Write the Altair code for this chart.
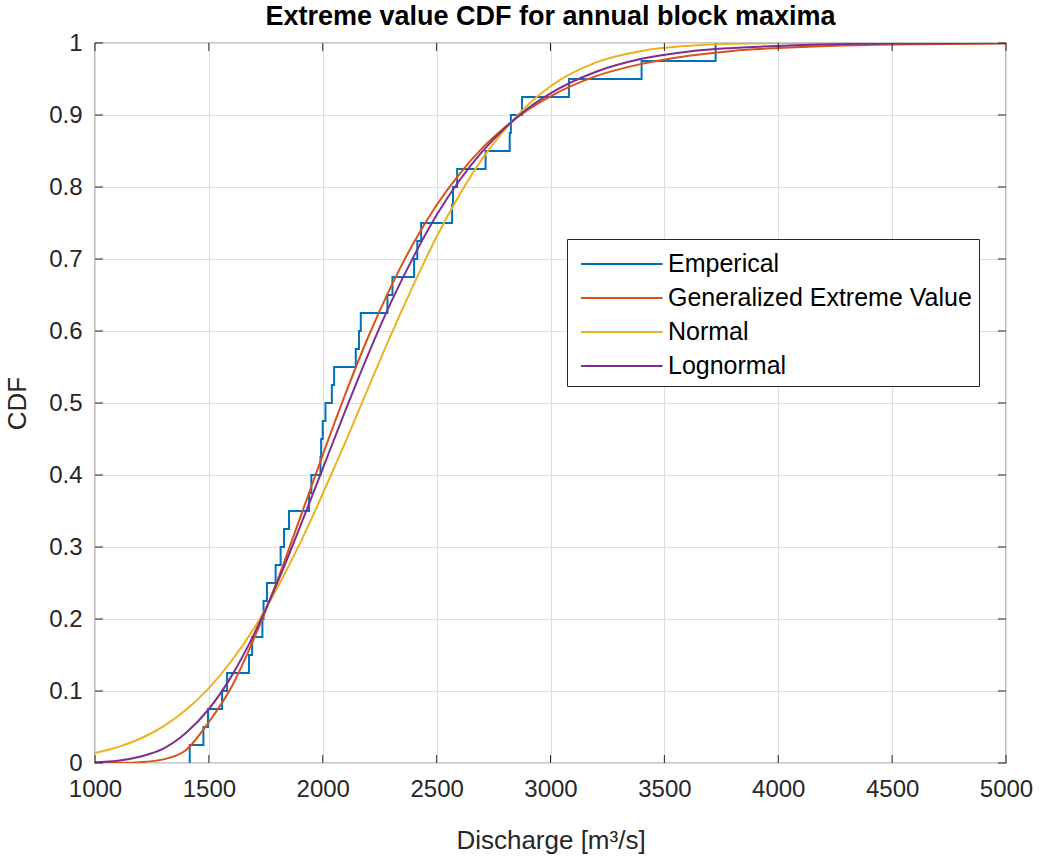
import altair as alt
import pandas as pd

# ---- data ----
# empirical sample (sorted annual maxima, m^3/s), 40 values
sample = [1416, 1476, 1496, 1558, 1580, 1676, 1690, 1735, 1740, 1755,
          1793, 1815, 1830, 1852, 1940, 1950, 1990, 1993, 2000, 2012,
          2040, 2050, 2145, 2159, 2167, 2284, 2306, 2401, 2415, 2432,
          2568, 2572, 2590, 2715, 2821, 2826, 2875, 3081, 3400, 3725]

curve_x = [1000, 1100, 1200, 1300, 1400, 1500, 1600, 1700, 1800, 1900,
           2000, 2100, 2200, 2300, 2400, 2500, 2600, 2700, 2800, 2900,
           3000, 3200, 3400, 3600, 3800, 4000, 4500, 5000]
gev_y = [0.0, 0.0002, 0.0012, 0.005, 0.018, 0.057, 0.106, 0.174, 0.253, 0.340,
         0.428, 0.513, 0.592, 0.662, 0.723, 0.775, 0.818, 0.854, 0.883, 0.907,
         0.926, 0.954, 0.971, 0.982, 0.989, 0.993, 0.998, 0.9994]
normal_y = [0.014, 0.022, 0.034, 0.051, 0.074, 0.104, 0.142, 0.188, 0.243, 0.305,
            0.374, 0.446, 0.521, 0.595, 0.665, 0.731, 0.789, 0.839, 0.880, 0.914,
            0.940, 0.973, 0.989, 0.996, 0.999, 0.9997, 1.0, 1.0]
lognormal_y = [0.001, 0.003, 0.009, 0.020, 0.042, 0.075, 0.121, 0.180, 0.250, 0.328,
               0.409, 0.490, 0.568, 0.640, 0.704, 0.761, 0.809, 0.849, 0.882, 0.909,
               0.930, 0.960, 0.978, 0.988, 0.993, 0.996, 0.9993, 0.9999]

series_names = ["Emperical", "Generalized Extreme Value", "Normal", "Lognormal"]
series_colors = ["#0072BD", "#D95319", "#EDB120", "#7E2F8E"]

x_ticks = [1000, 1500, 2000, 2500, 3000, 3500, 4000, 4500, 5000]
y_ticks = [0, 0.1, 0.2, 0.3, 0.4, 0.5, 0.6, 0.7, 0.8, 0.9, 1]

# ---- tables ----
n = len(sample)
ecdf = pd.DataFrame({
    "x": [sample[0]] + sample,
    "y": [0.0] + [(i + 1) / n for i in range(n)],   # cumulative count / n
    "series": "Emperical",
})
def curve(name, ys):
    return pd.DataFrame({"x": curve_x, "y": ys, "series": name})
gev = curve("Generalized Extreme Value", gev_y)
nrm = curve("Normal", normal_y)
lgn = curve("Lognormal", lognormal_y)

W, H = 911, 720
FONT = "Liberation Sans"
TXT = "#262626"

xs = alt.Scale(domain=[1000, 5000], nice=False)
ys = alt.Scale(domain=[0, 1], nice=False)
color = alt.Color("series:N",
                  scale=alt.Scale(domain=series_names, range=series_colors),
                  sort=series_names,
                  legend=alt.Legend(title=None, orient="none", legendX=472, legendY=196,
                                    fillColor="white", strokeColor=TXT, padding=7,
                                    symbolType="M-0.65,0H4.15", symbolSize=1156,
                                    symbolStrokeWidth=2,
                                    labelFont=FONT, labelFontSize=25, labelColor="#000000",
                                    labelOffset=58, rowPadding=3, labelLimit=0))

x_enc = alt.X("x:Q", scale=xs, axis=alt.Axis(values=x_ticks, format="d", title="Discharge [m³/s]",
                                               grid=True, ticks=False, domain=False, labelFlush=False,
                                               labelPadding=14, titlePadding=26))
y_enc = alt.Y("y:Q", scale=ys, axis=alt.Axis(values=y_ticks, format="~g", title="CDF",
                                               grid=True, ticks=False, domain=False, labelFlush=False,
                                               labelPadding=13, titlePadding=18))

base_ecdf = alt.Chart(ecdf).mark_line(interpolate="step-after", strokeWidth=2, clip=True).encode(
    x=x_enc, y=y_enc, color=color)
l_gev = alt.Chart(gev).mark_line(interpolate="monotone", strokeWidth=2, clip=True).encode(
    x="x:Q", y="y:Q", color=alt.Color("series:N"))
l_nrm = alt.Chart(nrm).mark_line(interpolate="monotone", strokeWidth=2, clip=True).encode(
    x="x:Q", y="y:Q", color=alt.Color("series:N"))
l_lgn = alt.Chart(lgn).mark_line(interpolate="monotone", strokeWidth=2, clip=True).encode(
    x="x:Q", y="y:Q", color=alt.Color("series:N"))

xt = pd.DataFrame({"t": x_ticks})
yt = pd.DataFrame({"t": y_ticks})
tick_len = 8
xt_bot = alt.Chart(xt).mark_rule(color=TXT, strokeWidth=1).encode(
    x="t:Q", y=alt.value(H), y2=alt.value(H - tick_len))
xt_top = alt.Chart(xt).mark_rule(color=TXT, strokeWidth=1).encode(
    x="t:Q", y=alt.value(0), y2=alt.value(tick_len))
yt_l = alt.Chart(yt).mark_rule(color=TXT, strokeWidth=1).encode(
    y="t:Q", x=alt.value(0), x2=alt.value(tick_len))
yt_r = alt.Chart(yt).mark_rule(color=TXT, strokeWidth=1).encode(
    y="t:Q", x=alt.value(W), x2=alt.value(W - tick_len))

chart = alt.layer(base_ecdf, l_gev, l_nrm, l_lgn, xt_bot, xt_top, yt_l, yt_r).properties(
    width=W, height=H,
    background="white",
    title=alt.TitleParams("Extreme value CDF for annual block maxima", font=FONT, fontSize=27,
                          fontWeight="bold", color="#000000", anchor="middle", offset=0,
                          frame="group"),
    autosize=alt.AutoSizeParams(type="none"),
    padding={"left": 95, "top": 43, "right": 39, "bottom": 99},
).configure_view(stroke=TXT, strokeWidth=1.2).configure_axis(
    labelFont=FONT, labelFontSize=24, labelColor=TXT,
    titleFont=FONT, titleFontSize=26, titleColor=TXT, titleFontWeight="normal",
    gridColor="#dedede", gridWidth=1,
)

chart.save("out.html", embed_options={"renderer": "svg", "actions": False})
